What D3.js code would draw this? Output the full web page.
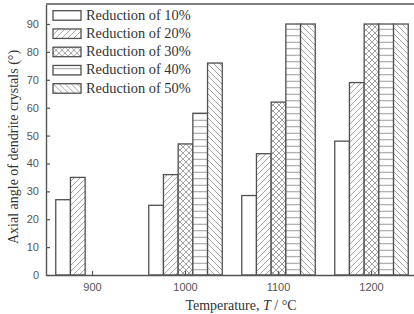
<!DOCTYPE html>
<html>
<head>
<meta charset="utf-8">
<script src="https://cdn.jsdelivr.net/npm/d3@7"></script>
<style>
  body { margin: 0; background: #fff; }
  svg { display: block; }
</style>
</head>
<body>
<svg id="chart"></svg>
<script>
// data
const temps = ['900', '1000', '1100', '1200'];
const series = ['Reduction of 10%', 'Reduction of 20%', 'Reduction of 30%', 'Reduction of 40%', 'Reduction of 50%'];
const r10 = [27, 25, 28.5, 48];
const r20 = [35, 36, 43.5, 69];
const r30 = [null, 47, 62, 90];
const r40 = [null, 58, 90, 90];
const r50 = [null, 76, 90, 90];
const yTicks = [0, 10, 20, 30, 40, 50, 60, 70, 80, 90];
const values = [r10, r20, r30, r40, r50];

const width = 414, height = 314;
const margin = {left: 46, top: 4, bottom: 275, right: 418};
const axisColor = '#555';
const hatchColor = '#9a9a9a';

const svg = d3.select('#chart')
    .attr('width', width)
    .attr('height', height);

// fill patterns
const defs = svg.append('defs');
function addPattern(id, size, draw) {
    const p = defs.append('pattern')
        .attr('id', id)
        .attr('patternUnits', 'userSpaceOnUse')
        .attr('width', size)
        .attr('height', size);
    p.append('rect').attr('width', size).attr('height', size).attr('fill', '#fff');
    draw(p, size);
}
addPattern('p20', 6, (p, s) => {
    p.append('path').attr('d', `M0,${s} L${s},0 M${-s / 2},${s / 2} L${s / 2},${-s / 2} M${s / 2},${s * 1.5} L${s * 1.5},${s / 2}`)
        .attr('stroke', hatchColor).attr('stroke-width', 0.9);
});
addPattern('p30', 6, (p, s) => {
    p.append('path').attr('d', `M0,0 L${s},${s} M0,${s} L${s},0`)
        .attr('stroke', hatchColor).attr('stroke-width', 0.9);
});
addPattern('p40', 6.5, (p, s) => {
    p.append('path').attr('d', `M0,${s / 2} L${s},${s / 2}`)
        .attr('stroke', hatchColor).attr('stroke-width', 1);
});
addPattern('p50', 6, (p, s) => {
    p.append('path').attr('d', `M0,0 L${s},${s} M${-s / 2},${s / 2} L${s / 2},${s * 1.5} M${s / 2},${-s / 2} L${s * 1.5},${s / 2}`)
        .attr('stroke', hatchColor).attr('stroke-width', 0.9);
});
const fills = ['#fff', 'url(#p20)', 'url(#p30)', 'url(#p40)', 'url(#p50)'];

// scales
const x = d3.scaleBand()
    .domain(temps)
    .range([margin.left, margin.right])
    .padding(0);
const groupWidth = 73.5;
const xInner = d3.scaleBand()
    .domain(series)
    .range([-groupWidth / 2, groupWidth / 2])
    .padding(0);
const y = d3.scaleLinear()
    .domain([0, 97])
    .range([margin.bottom, margin.top + 0.5]);

// bars
series.forEach((s, i) => {
    const rows = temps.map((t, j) => ({t: t, v: values[i][j]})).filter(d => d.v != null);
    svg.append('g')
        .selectAll('rect')
        .data(rows)
        .enter()
        .append('rect')
        .attr('x', d => x(d.t) + x.bandwidth() / 2 + xInner(s))
        .attr('y', d => y(d.v))
        .attr('width', xInner.bandwidth())
        .attr('height', d => y(0) - y(d.v))
        .attr('fill', fills[i])
        .attr('stroke', '#505050')
        .attr('stroke-width', 1.3);
});

// axes
const yAxis = svg.append('g')
    .attr('transform', 'translate(' + margin.left + ',0)')
    .call(d3.axisLeft(y).tickValues(yTicks).tickSizeInner(-4).tickSizeOuter(0).tickPadding(7));
const xAxis = svg.append('g')
    .attr('transform', 'translate(0,' + margin.bottom + ')')
    .call(d3.axisBottom(x).tickSizeInner(-4).tickSizeOuter(0).tickPadding(8));
[xAxis, yAxis].forEach(a => {
    a.select('.domain').attr('stroke', axisColor).attr('stroke-width', 1.4);
    a.selectAll('.tick line').attr('stroke', axisColor).attr('stroke-width', 1.2);
    a.selectAll('.tick text')
        .attr('fill', '#555')
        .style('font-family', 'Liberation Sans, Arial, sans-serif')
        .style('font-size', '11px');
});

// top frame
svg.append('line')
    .attr('x1', margin.left).attr('x2', margin.right)
    .attr('y1', margin.top).attr('y2', margin.top)
    .attr('stroke', axisColor)
    .attr('stroke-width', 1.4);

// legend
const legend = svg.append('g')
    .attr('transform', 'translate(53,10.7)');
series.forEach((s, i) => {
    const row = legend.append('g').attr('transform', 'translate(0,' + (i * 18.25) + ')');
    row.append('rect')
        .attr('width', 28)
        .attr('height', 9.5)
        .attr('fill', fills[i])
        .attr('stroke', '#505050')
        .attr('stroke-width', 1.3);
    row.append('text')
        .attr('x', 33)
        .attr('y', 9)
        .text(s)
        .style('font-family', 'Liberation Serif, Times New Roman, serif')
        .style('font-size', '14.4px')
        .attr('fill', '#333');
});

// axis titles
svg.append('text')
    .attr('transform', 'translate(18,147) rotate(-90)')
    .style('text-anchor', 'middle')
    .style('font-family', 'Liberation Serif, Times New Roman, serif')
    .style('font-size', '14px')
    .attr('fill', '#333')
    .text('Axial angle of dendrite crystals (°)');

const xTitle = svg.append('text')
    .attr('x', 241)
    .attr('y', 310)
    .style('text-anchor', 'middle')
    .style('font-family', 'Liberation Serif, Times New Roman, serif')
    .style('font-size', '14px')
    .attr('fill', '#333');
xTitle.append('tspan').text('Temperature, ');
xTitle.append('tspan').style('font-style', 'italic').text('T');
xTitle.append('tspan').text(' / °C');
</script>
</body>
</html>
